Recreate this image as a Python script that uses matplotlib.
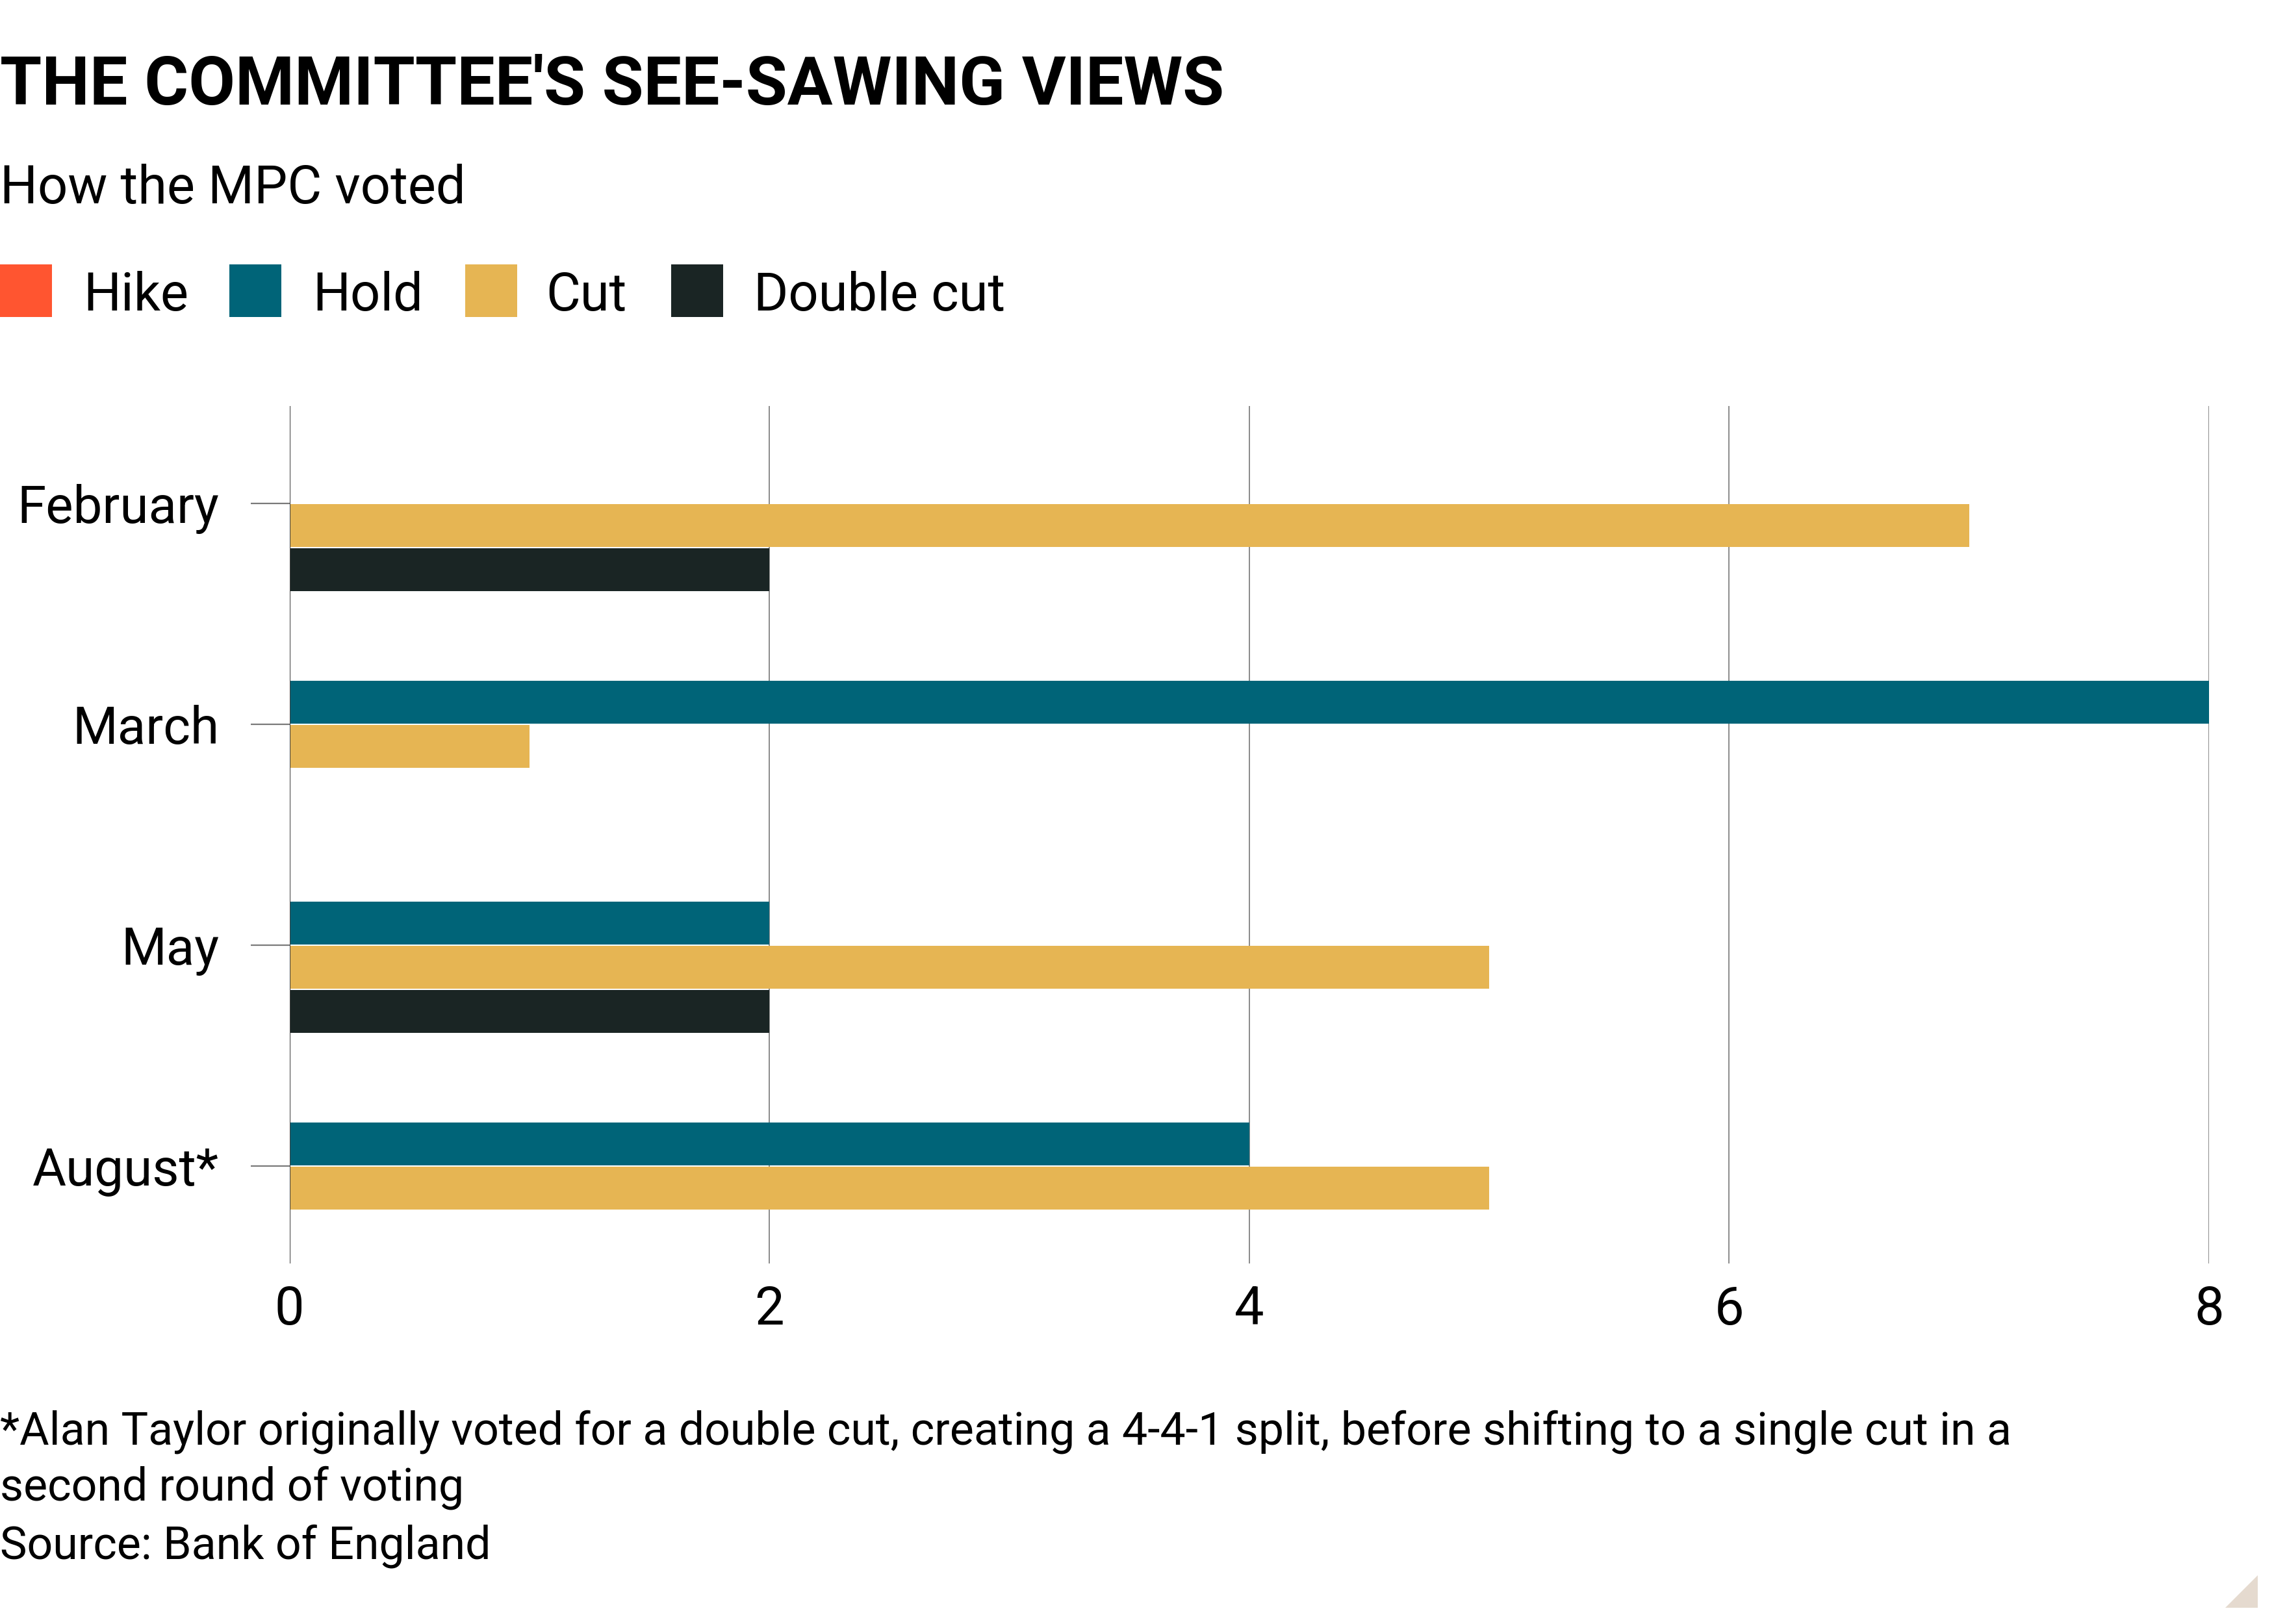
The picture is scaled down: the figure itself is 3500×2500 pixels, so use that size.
import matplotlib
matplotlib.use("Agg")
import matplotlib.pyplot as plt
from matplotlib.patches import Rectangle, Polygon
import numpy as np

# ---- data ----
months = ["February", "March", "May", "August*"]
series_names = ["Hike", "Hold", "Cut", "Double cut"]
hike = [0, 0, 0, 0]
hold = [0, 8, 2, 4]
cut = [7, 1, 5, 5]
double_cut = [2, 0, 2, 0]
x_ticks = [0, 2, 4, 6, 8]

title = "THE COMMITTEE'S SEE-SAWING VIEWS"
subtitle = "How the MPC voted"
notes = ["*Alan Taylor originally voted for a double cut, creating a 4-4-1 split, before shifting to a single cut in a",
         "second round of voting",
         "Source: Bank of England"]

colors = ["#FF5530", "#006478", "#E6B553", "#1A2524"]
FONT = ["Roboto", "DejaVu Sans"]
plt.rcParams["font.family"] = FONT

fig = plt.figure(figsize=(35, 25), dpi=100)
fig.patch.set_facecolor("white")
renderer = fig.canvas.get_renderer()


def fit_size(text, target_px, base=50, weight="normal"):
    t = fig.text(0, 0, text, fontsize=base, fontweight=weight)
    w = t.get_window_extent(renderer).width
    t.remove()
    return base * target_px / w


# scale factor from the long footnote line (target width ~3100 px)
k = fit_size(notes[0], 3100) / 49.0
title_size = fit_size(title, 1885, weight="bold")

ax = fig.add_axes([0.1273, 0.222, 0.8441, 0.528])
ax.set_facecolor("white")

values = [hike, hold, cut, double_cut]
ypos = np.arange(len(months))
bh = 0.194
for j, (vals, col) in enumerate(zip(values, colors)):
    ax.barh(ypos + (j - 1.5) * 0.2, vals, height=bh, color=col, linewidth=0, zorder=3)

ax.set_ylim(3.44, -0.44)
ax.set_xlim(0, 8)
ax.set_xticks(x_ticks)
ax.set_xticklabels([str(t) for t in x_ticks])
ax.set_yticks(ypos)
ax.set_yticklabels(months)
for s in ax.spines.values():
    s.set_visible(False)
for t in x_ticks:
    if t == 0:
        ax.axvline(t, color="#444444", lw=1.5, zorder=4)
    else:
        ax.axvline(t, color="#8a8a8a", lw=1.4, zorder=1)
ax.tick_params(axis="x", length=0, pad=24, labelsize=57 * k)
ax.tick_params(axis="y", length=43, width=1.6, color="#7a7a7a", pad=35, labelsize=56 * k)

# ---- titles ----
fig.text(0.0, 0.9354, title, fontsize=title_size, fontweight="bold",
         va="baseline", ha="left")
fig.text(0.0, 0.8748, subtitle, fontsize=57 * k, va="baseline", ha="left")

# ---- legend ----
sw_x = [0.0, 0.1009, 0.2046, 0.2951]
tx_x = [0.0366, 0.1374, 0.2400, 0.3314]
for name, col, sx, tx in zip(series_names, colors, sw_x, tx_x):
    fig.patches.append(Rectangle((sx, 0.8048), 0.0229, 0.0324, transform=fig.transFigure,
                                 facecolor=col, edgecolor="none"))
    fig.text(tx, 0.8088, name, fontsize=57 * k, va="baseline", ha="left")

# ---- footnotes ----
for y, line in zip([0.1108, 0.0760, 0.0400], notes):
    fig.text(0.0, y, line, fontsize=49 * k, va="baseline", ha="left")

# corner triangle
fig.patches.append(Polygon([(0.9786, 0.010), (0.9929, 0.010), (0.9929, 0.030)], closed=True,
                           transform=fig.transFigure, facecolor="#E5DACF", edgecolor="none"))

fig.savefig("out.png", dpi=100, facecolor="white")
